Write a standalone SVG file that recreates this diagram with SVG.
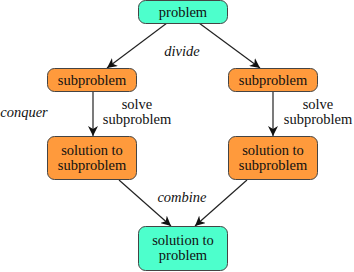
<svg xmlns="http://www.w3.org/2000/svg" width="354" height="272" viewBox="0 0 354 272">
<defs>
<marker id="ah" viewBox="0 0 10 10" refX="10" refY="5" markerWidth="10" markerHeight="10" markerUnits="userSpaceOnUse" orient="auto">
<path d="M0,0 L10,5 L0,10 L3,5 Z" fill="#111"/>
</marker>
</defs>
<style>
.t{fill:#4dffcc;stroke:#444;stroke-width:1}
.o{fill:#ff9a3c;stroke:#444;stroke-width:1}
text{font-family:'Liberation Serif','Times New Roman','DejaVu Serif',serif;font-size:14.5px;fill:#111;text-anchor:middle}
.i{font-style:italic}
.c{stroke:#222;stroke-width:1.2;fill:none;marker-end:url(#ah)}
</style>
<g id="connectors">
<line class="c" x1="167" y1="23" x2="107" y2="68"/>
<line class="c" x1="199" y1="23" x2="260" y2="68"/>
<line class="c" x1="93" y1="91" x2="93" y2="136"/>
<line class="c" x1="273" y1="91" x2="273" y2="136"/>
<line class="c" x1="119" y1="180" x2="171" y2="226"/>
<line class="c" x1="247" y1="180" x2="195" y2="226"/>
</g>
<g id="labels">
<text class="i" x="182" y="56">divide</text>
<text class="i" x="24" y="117">conquer</text>
<text x="137" y="109">solve</text>
<text x="137" y="124">subproblem</text>
<text x="318" y="109">solve</text>
<text x="318" y="124">subproblem</text>
<text class="i" x="182" y="202">combine</text>
</g>
<g id="problem">
<rect class="t" x="138.5" y="0.5" width="89" height="23" rx="7"/>
<text x="183" y="17">problem</text>
</g>
<g id="subproblem-left">
<rect class="o" x="47.5" y="68.5" width="89" height="23" rx="7"/>
<text x="92" y="85">subproblem</text>
</g>
<g id="subproblem-right">
<rect class="o" x="228.5" y="68.5" width="89" height="23" rx="7"/>
<text x="273" y="85">subproblem</text>
</g>
<g id="solution-left">
<rect class="o" x="47.5" y="136.5" width="89" height="43" rx="7"/>
<text x="92" y="155">solution to</text>
<text x="92" y="170">subproblem</text>
</g>
<g id="solution-right">
<rect class="o" x="228.5" y="136.5" width="89" height="43" rx="7"/>
<text x="273" y="155">solution to</text>
<text x="273" y="170">subproblem</text>
</g>
<g id="solution">
<rect class="t" x="138.5" y="226.5" width="89" height="44" rx="7"/>
<text x="183" y="245">solution to</text>
<text x="183" y="260">problem</text>
</g>
</svg>
